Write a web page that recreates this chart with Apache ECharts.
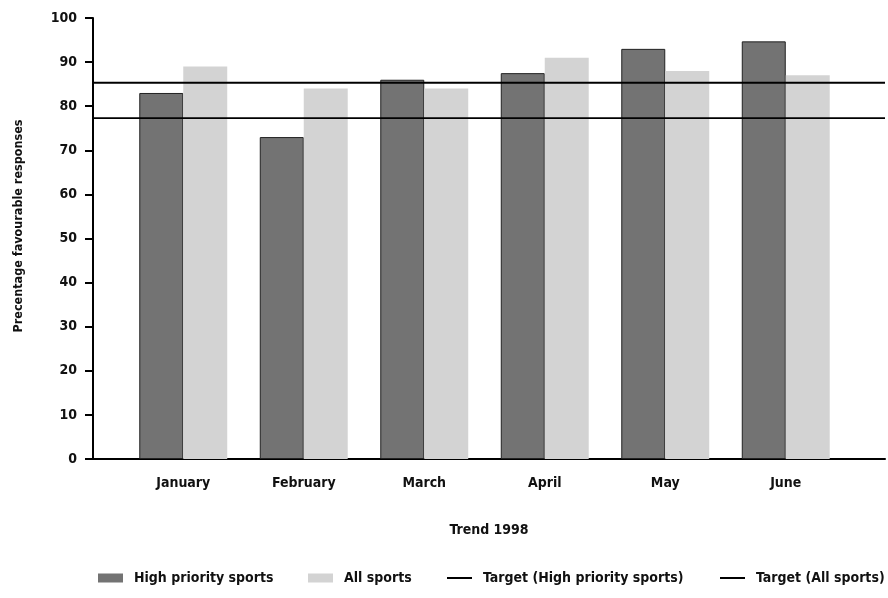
<!DOCTYPE html>
<html>
<head>
<meta charset="utf-8">
<script src="https://cdn.jsdelivr.net/npm/echarts@6/dist/echarts.min.js"></script>
<style>
  html, body { margin: 0; padding: 0; background: #fff; }
  #chart { width: 888px; height: 598px; }
</style>
</head>
<body>
<div id="chart"></div>
<script>
// Monthly share of favourable responses, 1998
const months = ['January', 'February', 'March', 'April', 'May', 'June'];
const highPriority = [83, 73, 86, 87.5, 93, 94.7];
const allSports = [89, 84, 84, 91, 88, 87];
const targetHighPriority = 85.3;
const targetAllSports = 77.3;
const yTicks = [0, 10, 20, 30, 40, 50, 60, 70, 80, 90, 100];

const FONT = "'Liberation Sans Narrow', 'DejaVu Sans Condensed', 'Roboto', sans-serif";
const INK = '#111';
const labelStyle = { fontFamily: FONT, fontSize: 14, fontWeight: 'bold', color: INK };

const chart = echarts.init(document.getElementById('chart'), null, { renderer: 'canvas' });

// one legend block per entry so each sits at its own x position
function legendBlock(name, left, iconHeight) {
  return {
    left: left,
    top: 566,
    icon: 'rect',
    itemWidth: 25,
    itemHeight: iconHeight,
    itemStyle: { borderWidth: 0 },
    textStyle: Object.assign({}, labelStyle, { padding: [0, 0, 0, 6] }),
    data: [name]
  };
}

chart.setOption({
  animation: false,
  backgroundColor: '#fff',
  textStyle: { fontFamily: FONT, color: INK },
  grid: [
    // bars
    { left: 123, right: 42, top: 18, bottom: 139 },
    // full-width frame for the axis baseline and target lines
    { left: 93, right: 3, top: 18, bottom: 139 }
  ],
  xAxis: [
    {
      type: 'category',
      gridIndex: 0,
      data: months,
      axisLine: { show: false },
      axisTick: { show: false },
      axisLabel: Object.assign({}, labelStyle, { margin: 17 })
    },
    {
      type: 'value',
      gridIndex: 1,
      min: 0,
      max: 1,
      axisLine: { show: true, lineStyle: { color: '#000', width: 2 } },
      axisTick: { show: false },
      axisLabel: { show: false },
      splitLine: { show: false },
      name: 'Trend 1998',
      nameLocation: 'middle',
      nameGap: 64,
      nameTextStyle: labelStyle
    }
  ],
  yAxis: [
    {
      type: 'value',
      gridIndex: 0,
      min: 0,
      max: 100,
      interval: 10,
      offset: 30,
      axisLine: { show: true, lineStyle: { color: '#000', width: 2 } },
      axisTick: { show: true, inside: false, length: 8, lineStyle: { color: '#000', width: 2 } },
      axisLabel: Object.assign({}, labelStyle, {
        margin: 16,
        formatter: v => (yTicks.indexOf(v) >= 0 ? String(v) : '')
      }),
      splitLine: { show: false }
    },
    {
      type: 'value',
      gridIndex: 1,
      min: 0,
      max: 100,
      show: false
    }
  ],
  legend: [
    legendBlock('High priority sports', 93, 9),
    legendBlock('All sports', 303, 9),
    legendBlock('Target (High priority sports)', 442, 2),
    legendBlock('Target (All sports)', 715, 2)
  ],
  graphic: [
    {
      type: 'text',
      rotation: Math.PI / 2,
      x: 19,
      y: 226,
      style: {
        text: 'Precentage favourable responses',
        fontFamily: FONT,
        fontSize: 12.5,
        fontWeight: 'bold',
        fill: INK,
        align: 'center',
        verticalAlign: 'middle'
      }
    }
  ],
  series: [
    {
      name: 'High priority sports',
      type: 'bar',
      xAxisIndex: 0,
      yAxisIndex: 0,
      data: highPriority,
      barGap: '0%',
      barCategoryGap: '27%',
      itemStyle: { color: '#737373', borderColor: '#222', borderWidth: 1 }
    },
    {
      name: 'All sports',
      type: 'bar',
      xAxisIndex: 0,
      yAxisIndex: 0,
      data: allSports,
      barGap: '0%',
      barCategoryGap: '27%',
      itemStyle: { color: '#d3d3d3' }
    },
    {
      name: 'Target (High priority sports)',
      type: 'line',
      xAxisIndex: 1,
      yAxisIndex: 1,
      symbol: 'none',
      data: [[0, targetHighPriority], [1, targetHighPriority]],
      lineStyle: { color: '#000', width: 2 },
      itemStyle: { color: '#000' },
      z: 5
    },
    {
      name: 'Target (All sports)',
      type: 'line',
      xAxisIndex: 1,
      yAxisIndex: 1,
      symbol: 'none',
      data: [[0, targetAllSports], [1, targetAllSports]],
      lineStyle: { color: '#000', width: 1.6 },
      itemStyle: { color: '#000' },
      z: 5
    }
  ]
});
</script>
</body>
</html>
